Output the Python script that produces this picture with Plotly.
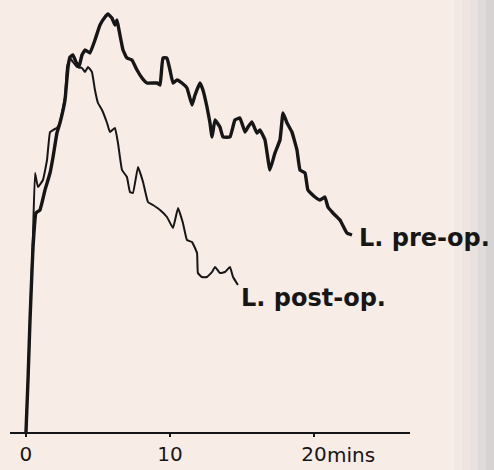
import plotly.graph_objects as go

# Time (minutes) and relative count values
pre_t = [0, 0.14, 0.28, 0.42, 0.49, 0.69, 0.97, 1.32, 1.67, 1.88, 2.15, 2.36, 2.71, 2.92, 3.06, 3.26,
         3.47, 3.68, 3.89, 4.10, 4.44, 4.79, 5.14, 5.49, 5.69, 5.97, 6.18, 6.32, 6.46, 6.74, 7.01, 7.36,
         7.71, 8.06, 8.40, 9.10, 9.31, 9.51, 9.79, 10.0, 10.21, 10.49, 10.83, 11.18, 11.53, 11.74, 12.08,
         12.29, 12.57, 12.78, 12.92, 13.13, 13.47, 13.68, 14.17, 14.51, 14.86, 15.21, 15.42, 15.69, 16.04,
         16.25, 16.60, 16.94, 17.29, 17.64, 17.85, 18.13, 18.47, 18.82, 19.03, 19.38, 19.58, 20.07, 20.42,
         20.76, 20.97, 21.32, 21.81, 22.29, 22.64]
pre_v = [0, 52, 112, 162, 185, 219, 222, 242, 259, 275, 299, 309, 332, 365, 375, 377,
         370, 365, 377, 382, 379, 392, 407, 415, 418, 414, 407, 412, 402, 382, 374, 372,
         362, 354, 349, 349, 347, 374, 374, 362, 349, 352, 349, 344, 327, 337, 349,
         342, 325, 309, 295, 312, 305, 295, 295, 312, 314, 300, 305, 310, 299,
         302, 292, 262, 279, 292, 319, 309, 300, 282, 262, 259, 242, 235, 232,
         235, 225, 219, 212, 199, 197]

post_t = [0, 0.14, 0.28, 0.49, 0.63, 0.83, 1.18, 1.46, 1.67, 1.88, 2.15, 2.36, 2.71, 2.85, 3.06, 3.26,
          3.54, 3.89, 4.10, 4.31, 4.58, 4.79, 5.0, 5.28, 5.63, 5.83, 6.18, 6.39, 6.67, 7.01, 7.22, 7.43,
          7.78, 8.13, 8.47, 8.82, 9.31, 9.79, 10.21, 10.56, 10.90, 11.18, 11.53, 11.88, 11.94, 12.22,
          12.57, 12.92, 13.13, 13.47, 13.82, 14.17, 14.38, 14.72]
post_v = [0, 52, 112, 199, 259, 245, 252, 272, 300, 302, 304, 310, 335, 365, 374, 370,
          365, 364, 360, 365, 360, 342, 329, 322, 309, 300, 304, 289, 262, 255, 240, 239,
          265, 250, 230, 227, 222, 215, 204, 224, 209, 192, 190, 179, 159, 155,
          155, 160, 165, 159, 160, 165, 155, 147]

tick_vals = [0, 10, 20]
tick_text = ["0", "10", "20"]
series_labels = ["L. pre-op.", "L. post-op."]

ink = "#161616"
paper = "#f8ece6"

fig = go.Figure()
fig.add_trace(go.Scatter(x=pre_t, y=pre_v, mode="lines",
                         line=dict(color=ink, width=3.4, shape="spline", smoothing=0.3),
                         name=series_labels[0], hoverinfo="skip"))
fig.add_trace(go.Scatter(x=post_t, y=post_v, mode="lines",
                         line=dict(color=ink, width=2.0, shape="spline", smoothing=0.3),
                         name=series_labels[1], hoverinfo="skip"))

# series labels at the line ends
fig.add_annotation(x=pre_t[-1], y=pre_v[-1], text=series_labels[0], showarrow=False,
                   xanchor="left", yanchor="middle", xshift=5, yshift=-3,
                   font=dict(family="DejaVu Sans", size=24, color=ink, weight="bold"))
fig.add_annotation(x=post_t[-1], y=post_v[-1], text=series_labels[1], showarrow=False,
                   xanchor="left", yanchor="middle", xshift=1, yshift=-13,
                   font=dict(family="DejaVu Sans", size=24, color=ink, weight="bold"))
# unit after the last tick label
fig.add_annotation(x=tick_vals[-1], y=0, text="mins", showarrow=False,
                   xanchor="left", yanchor="top", xshift=11, yshift=-9,
                   font=dict(family="DejaVu Sans", size=20, color=ink))

# scan shadow on the right edge
shades = ["#f3e9e4", "#eee5e1", "#e8e1de", "#e0dbd9", "#d6d3d2"]
for i, c in enumerate(shades):
    fig.add_shape(type="rect", xref="paper", yref="paper",
                  x0=(454 + i * 8) / 494, x1=1.0 if i == len(shades) - 1 else (462 + i * 8) / 494,
                  y0=0, y1=1, fillcolor=c, line=dict(width=0), layer="below")

fig.update_layout(
    width=494, height=470,
    margin=dict(l=0, r=0, t=0, b=0),
    paper_bgcolor=paper, plot_bgcolor="rgba(0,0,0,0)",
    showlegend=False,
    xaxis=dict(range=[-1.11, 26.67], domain=[10 / 494, 410 / 494],
               tickvals=tick_vals, ticktext=tick_text,
               showgrid=False, zeroline=False,
               showline=True, linecolor=ink, linewidth=2.2,
               ticks="outside", ticklen=3, tickwidth=1.5, tickcolor=ink,
               tickfont=dict(family="DejaVu Sans", size=20, color=ink),
               fixedrange=True),
    yaxis=dict(range=[0, 432], domain=[38 / 470, 1],
               showgrid=False, zeroline=False, showline=False,
               showticklabels=False, ticks="", fixedrange=True),
)

fig.write_html("out.html", config={"displayModeBar": False},
               post_script="document.body.style.margin='0';document.body.style.overflow='hidden';"
                           "document.body.style.background='" + paper + "';")
